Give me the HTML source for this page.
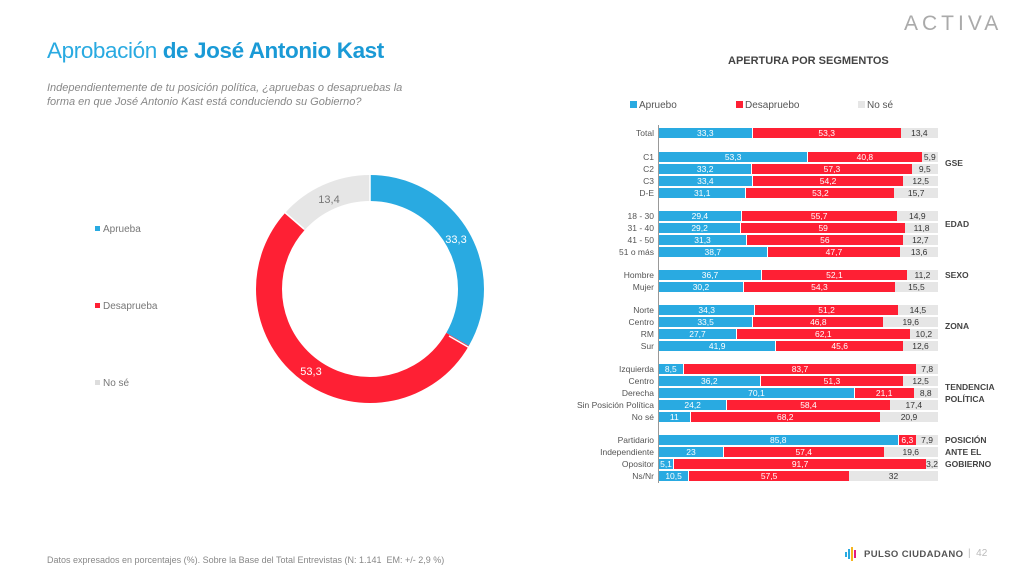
<!DOCTYPE html>
<html><head><meta charset="utf-8"><style>
body{margin:0;width:1027px;height:578px;background:#fff;position:relative;overflow:hidden;font-family:"Liberation Sans",sans-serif}
.a{position:absolute}
.row{position:absolute;left:659px;width:279px;height:10px;display:flex;font-size:8.5px;line-height:10px;text-align:center}
.row div{overflow:visible;white-space:nowrap}
.b{background:#29aae1;color:#fff}.r{background:#fe2034;color:#fff;border-left:1px solid #fff;box-sizing:border-box}.g{background:#e6e6e6;color:#333}
.lab{position:absolute;right:373px;font-size:8.5px;color:#555;line-height:10px;text-align:right;white-space:nowrap}
.grp{position:absolute;left:945px;font-size:8.5px;font-weight:bold;color:#444;line-height:12px}
</style></head><body>
<div class="a" style="left:47px;top:38px;font-size:22.5px;color:#29aae1;letter-spacing:-0.4px">Aprobación <b style="color:#1a9ad6">de José Antonio Kast</b></div>
<div class="a" style="left:47px;top:81px;font-size:11px;color:#888;font-style:italic;line-height:14px">Independientemente de tu posición política, ¿apruebas o desapruebas la<br>forma en que José Antonio Kast está conduciendo su Gobierno?</div>
<div class="a" style="left:904px;top:12px;font-size:21px;color:#aaa;letter-spacing:4px;font-weight:normal">ACTIVA</div>
<div class="a" style="left:728px;top:55px;font-size:11px;font-weight:bold;color:#444">APERTURA POR SEGMENTOS</div>

<div class="a" style="left:95px;top:224px;font-size:10px;color:#777"><span style="display:inline-block;width:5px;height:5px;background:#29aae1;margin-right:3px;vertical-align:1px"></span>Aprueba</div>
<div class="a" style="left:95px;top:301px;font-size:10px;color:#777"><span style="display:inline-block;width:5px;height:5px;background:#fe2034;margin-right:3px;vertical-align:1px"></span>Desaprueba</div>
<div class="a" style="left:95px;top:378px;font-size:10px;color:#777"><span style="display:inline-block;width:5px;height:5px;background:#ddd;margin-right:3px;vertical-align:1px"></span>No sé</div>

<svg class="a" style="left:0;top:0" width="1027" height="578">
<g transform="rotate(-90 370 289)">
<circle cx="370" cy="289" r="101" fill="none" stroke="#29aae1" stroke-width="26" stroke-dasharray="211.3 423.3"/>
<circle cx="370" cy="289" r="101" fill="none" stroke="#fe2034" stroke-width="26" stroke-dasharray="338.2 296.4" stroke-dashoffset="-211.3"/>
<circle cx="370" cy="289" r="101" fill="none" stroke="#e6e6e6" stroke-width="26" stroke-dasharray="85.1 549.5" stroke-dashoffset="-549.5"/>
</g>
<line x1="370" y1="173" x2="370" y2="202" stroke="#fff" stroke-width="1.5"/>
<line x1="449" y1="336" x2="475" y2="351" stroke="#fff" stroke-width="1.5"/>
<line x1="304" y1="229" x2="282" y2="210" stroke="#fff" stroke-width="1.5"/>
<text x="456" y="243" font-size="11" fill="#fff" text-anchor="middle" font-family="Liberation Sans">33,3</text>
<text x="311" y="375" font-size="11" fill="#fff" text-anchor="middle" font-family="Liberation Sans">53,3</text>
<text x="329" y="203" font-size="11" fill="#777" text-anchor="middle" font-family="Liberation Sans">13,4</text>
<line x1="658.5" y1="125" x2="658.5" y2="483" stroke="#999" stroke-width="1"/>
</svg>

<div class="a" style="left:630px;top:100px;font-size:10px;color:#555"><span style="display:inline-block;width:7px;height:7px;background:#29aae1;margin-right:2px"></span>Apruebo</div>
<div class="a" style="left:736px;top:100px;font-size:10px;color:#555"><span style="display:inline-block;width:7px;height:7px;background:#fe2034;margin-right:2px"></span>Desapruebo</div>
<div class="a" style="left:858px;top:100px;font-size:10px;color:#555"><span style="display:inline-block;width:7px;height:7px;background:#e6e6e6;margin-right:2px"></span>No sé</div>

<div class="lab" style="top:128px">Total</div><div class="row" style="top:128px"><div class="b" style="flex:33.3 0 0">33,3</div><div class="r" style="flex:53.3 0 0">53,3</div><div class="g" style="flex:13.4 0 0">13,4</div></div>
<div class="lab" style="top:152px">C1</div><div class="row" style="top:152px"><div class="b" style="flex:53.3 0 0">53,3</div><div class="r" style="flex:40.8 0 0">40,8</div><div class="g" style="flex:5.9 0 0">5,9</div></div>
<div class="lab" style="top:164px">C2</div><div class="row" style="top:164px"><div class="b" style="flex:33.2 0 0">33,2</div><div class="r" style="flex:57.3 0 0">57,3</div><div class="g" style="flex:9.5 0 0">9,5</div></div>
<div class="lab" style="top:176px">C3</div><div class="row" style="top:176px"><div class="b" style="flex:33.4 0 0">33,4</div><div class="r" style="flex:54.2 0 0">54,2</div><div class="g" style="flex:12.5 0 0">12,5</div></div>
<div class="lab" style="top:188px">D-E</div><div class="row" style="top:188px"><div class="b" style="flex:31.1 0 0">31,1</div><div class="r" style="flex:53.2 0 0">53,2</div><div class="g" style="flex:15.7 0 0">15,7</div></div>
<div class="lab" style="top:211px">18 - 30</div><div class="row" style="top:211px"><div class="b" style="flex:29.4 0 0">29,4</div><div class="r" style="flex:55.7 0 0">55,7</div><div class="g" style="flex:14.9 0 0">14,9</div></div>
<div class="lab" style="top:223px">31 - 40</div><div class="row" style="top:223px"><div class="b" style="flex:29.2 0 0">29,2</div><div class="r" style="flex:59 0 0">59</div><div class="g" style="flex:11.8 0 0">11,8</div></div>
<div class="lab" style="top:235px">41 - 50</div><div class="row" style="top:235px"><div class="b" style="flex:31.3 0 0">31,3</div><div class="r" style="flex:56 0 0">56</div><div class="g" style="flex:12.7 0 0">12,7</div></div>
<div class="lab" style="top:247px">51 o más</div><div class="row" style="top:247px"><div class="b" style="flex:38.7 0 0">38,7</div><div class="r" style="flex:47.7 0 0">47,7</div><div class="g" style="flex:13.6 0 0">13,6</div></div>
<div class="lab" style="top:270px">Hombre</div><div class="row" style="top:270px"><div class="b" style="flex:36.7 0 0">36,7</div><div class="r" style="flex:52.1 0 0">52,1</div><div class="g" style="flex:11.2 0 0">11,2</div></div>
<div class="lab" style="top:282px">Mujer</div><div class="row" style="top:282px"><div class="b" style="flex:30.2 0 0">30,2</div><div class="r" style="flex:54.3 0 0">54,3</div><div class="g" style="flex:15.5 0 0">15,5</div></div>
<div class="lab" style="top:305px">Norte</div><div class="row" style="top:305px"><div class="b" style="flex:34.3 0 0">34,3</div><div class="r" style="flex:51.2 0 0">51,2</div><div class="g" style="flex:14.5 0 0">14,5</div></div>
<div class="lab" style="top:317px">Centro</div><div class="row" style="top:317px"><div class="b" style="flex:33.5 0 0">33,5</div><div class="r" style="flex:46.8 0 0">46,8</div><div class="g" style="flex:19.6 0 0">19,6</div></div>
<div class="lab" style="top:329px">RM</div><div class="row" style="top:329px"><div class="b" style="flex:27.7 0 0">27,7</div><div class="r" style="flex:62.1 0 0">62,1</div><div class="g" style="flex:10.2 0 0">10,2</div></div>
<div class="lab" style="top:341px">Sur</div><div class="row" style="top:341px"><div class="b" style="flex:41.9 0 0">41,9</div><div class="r" style="flex:45.6 0 0">45,6</div><div class="g" style="flex:12.6 0 0">12,6</div></div>
<div class="lab" style="top:364px">Izquierda</div><div class="row" style="top:364px"><div class="b" style="flex:8.5 0 0">8,5</div><div class="r" style="flex:83.7 0 0">83,7</div><div class="g" style="flex:7.8 0 0">7,8</div></div>
<div class="lab" style="top:376px">Centro</div><div class="row" style="top:376px"><div class="b" style="flex:36.2 0 0">36,2</div><div class="r" style="flex:51.3 0 0">51,3</div><div class="g" style="flex:12.5 0 0">12,5</div></div>
<div class="lab" style="top:388px">Derecha</div><div class="row" style="top:388px"><div class="b" style="flex:70.1 0 0">70,1</div><div class="r" style="flex:21.1 0 0">21,1</div><div class="g" style="flex:8.8 0 0">8,8</div></div>
<div class="lab" style="top:400px">Sin Posición Política</div><div class="row" style="top:400px"><div class="b" style="flex:24.2 0 0">24,2</div><div class="r" style="flex:58.4 0 0">58,4</div><div class="g" style="flex:17.4 0 0">17,4</div></div>
<div class="lab" style="top:412px">No sé</div><div class="row" style="top:412px"><div class="b" style="flex:11 0 0">11</div><div class="r" style="flex:68.2 0 0">68,2</div><div class="g" style="flex:20.9 0 0">20,9</div></div>
<div class="lab" style="top:435px">Partidario</div><div class="row" style="top:435px"><div class="b" style="flex:85.8 0 0">85,8</div><div class="r" style="flex:6.3 0 0">6,3</div><div class="g" style="flex:7.9 0 0">7,9</div></div>
<div class="lab" style="top:447px">Independiente</div><div class="row" style="top:447px"><div class="b" style="flex:23 0 0">23</div><div class="r" style="flex:57.4 0 0">57,4</div><div class="g" style="flex:19.6 0 0">19,6</div></div>
<div class="lab" style="top:459px">Opositor</div><div class="row" style="top:459px"><div class="b" style="flex:5.1 0 0">5,1</div><div class="r" style="flex:91.7 0 0">91,7</div><div class="g" style="flex:3.2 0 0">3,2</div></div>
<div class="lab" style="top:471px">Ns/Nr</div><div class="row" style="top:471px"><div class="b" style="flex:10.5 0 0">10,5</div><div class="r" style="flex:57.5 0 0">57,5</div><div class="g" style="flex:32 0 0">32</div></div>

<div class="grp" style="top:157px">GSE</div>
<div class="grp" style="top:218px">EDAD</div>
<div class="grp" style="top:269px">SEXO</div>
<div class="grp" style="top:320px">ZONA</div>
<div class="grp" style="top:381px">TENDENCIA<br>POLÍTICA</div>
<div class="grp" style="top:434px">POSICIÓN<br>ANTE EL<br>GOBIERNO</div>

<div class="a" style="left:47px;top:555px;font-size:9px;color:#888">Datos expresados en porcentajes (%). Sobre la Base del Total Entrevistas (N: 1.141&nbsp; EM: +/- 2,9 %)</div>
<div class="a" style="left:845px;top:547px;width:14px;height:14px">
<div class="a" style="left:0;top:5px;width:2px;height:5px;background:#29aae1"></div>
<div class="a" style="left:3px;top:2px;width:2px;height:10px;background:#29aae1"></div>
<div class="a" style="left:6px;top:0;width:2px;height:14px;background:#f6b51e"></div>
<div class="a" style="left:9px;top:3px;width:2px;height:8px;background:#e5197f"></div>
</div>
<div class="a" style="left:864px;top:549px;font-size:9.5px;font-weight:bold;color:#555;letter-spacing:0.4px">PULSO CIUDADANO</div>
<div class="a" style="left:968px;top:548px;font-size:10px;color:#bbb">|&nbsp; 42</div>
</body></html>
